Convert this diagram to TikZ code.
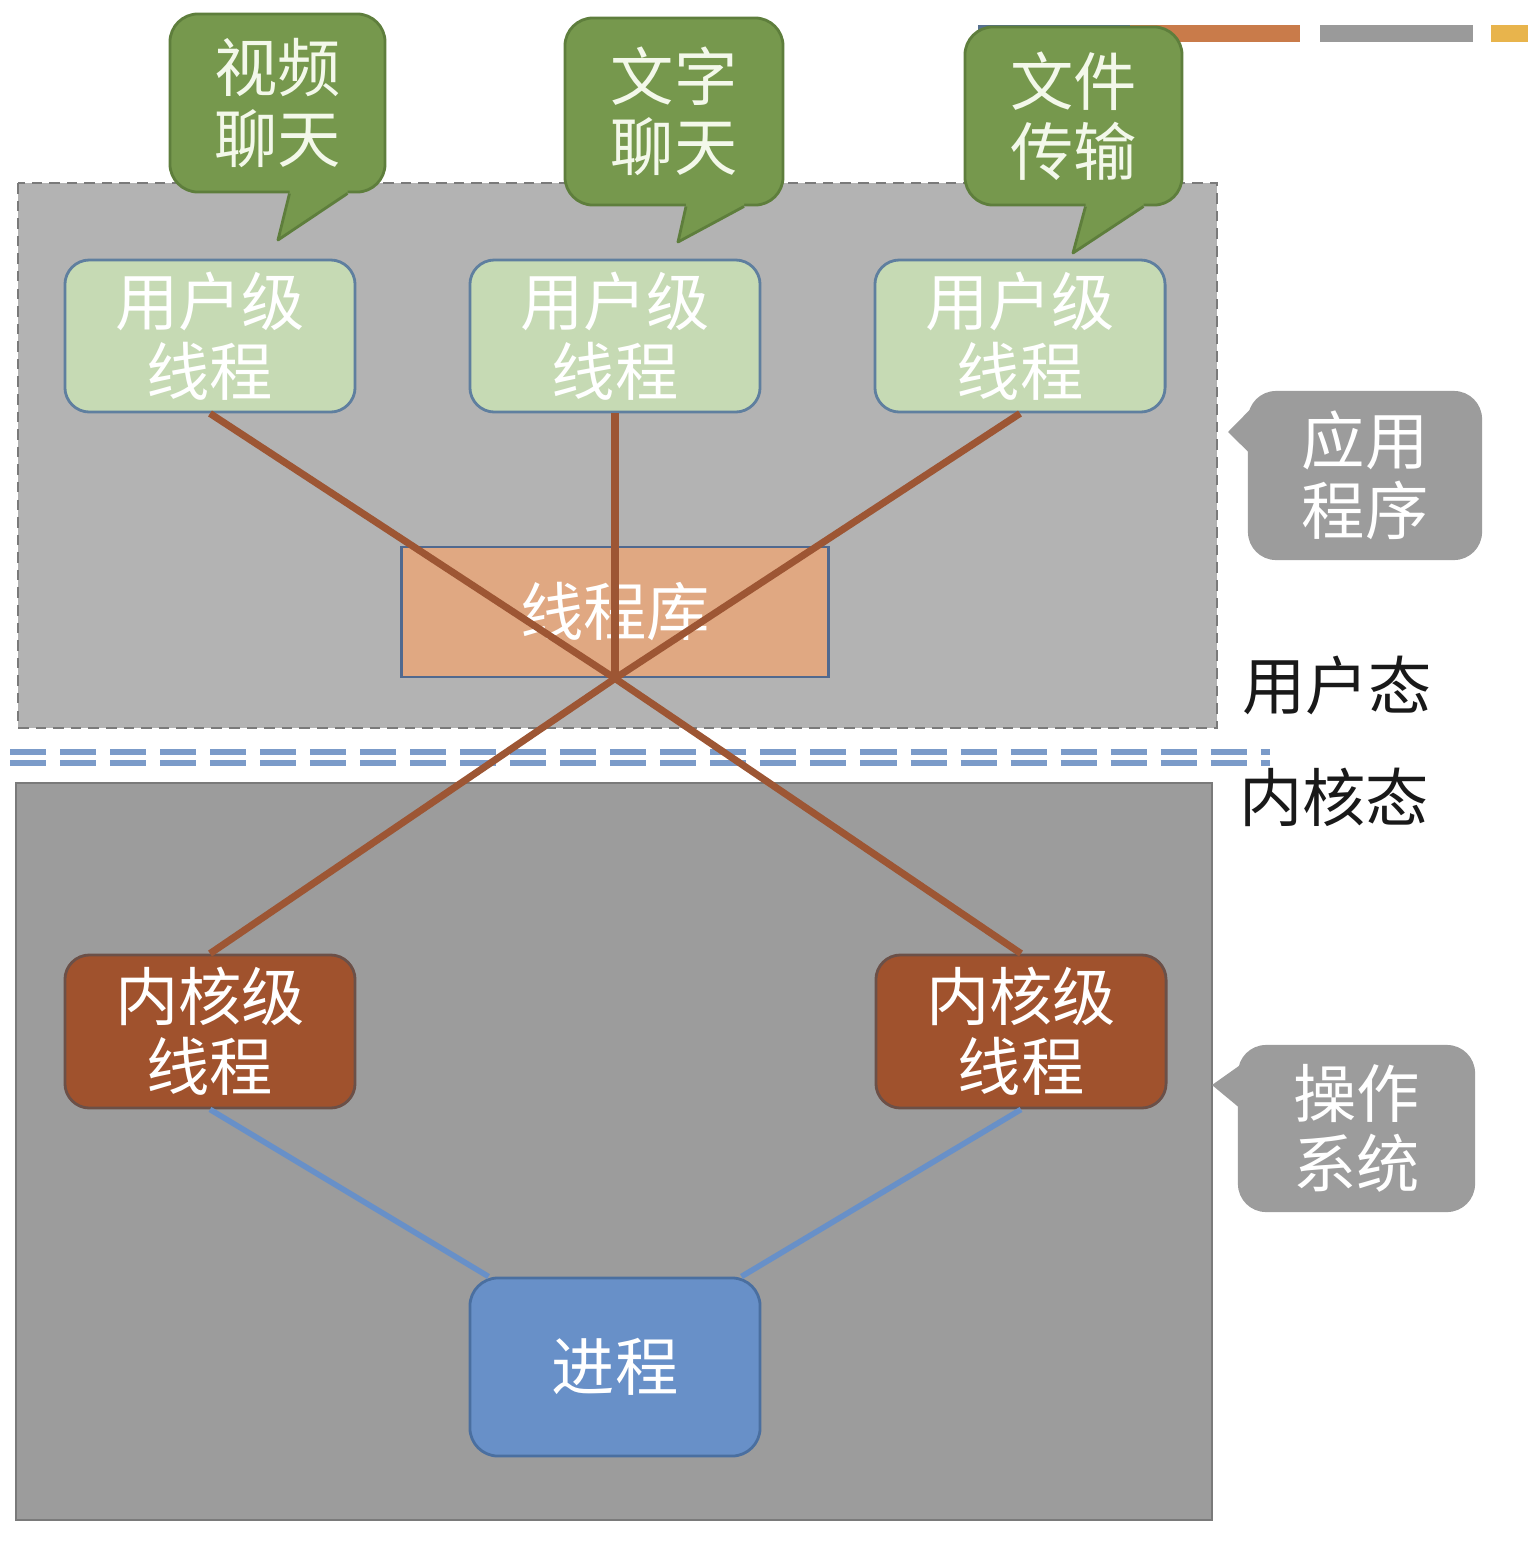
\documentclass[tikz,border=0pt]{standalone}
\usepackage{fontspec}
\setmainfont{Noto Sans CJK SC}
\usetikzlibrary{calc}

\definecolor{usergray}{HTML}{B3B3B3}
\definecolor{kernelgray}{HTML}{9C9C9C}
\definecolor{areaedge}{HTML}{7A7A7A}
\definecolor{sepblue}{HTML}{7B9BC9}
\definecolor{greenfill}{HTML}{76984D}
\definecolor{greenedge}{HTML}{5E7E3C}
\definecolor{greentext}{HTML}{F3F8EA}
\definecolor{userfill}{HTML}{C6DAB4}
\definecolor{useredge}{HTML}{5F7F9F}
\definecolor{libfill}{HTML}{E0A882}
\definecolor{libedge}{HTML}{50698F}
\definecolor{kernfill}{HTML}{A0522D}
\definecolor{kernedge}{HTML}{6B5048}
\definecolor{procfill}{HTML}{6890C8}
\definecolor{procedge}{HTML}{4A6FA0}
\definecolor{brownline}{HTML}{9D5634}
\definecolor{callgray}{HTML}{9C9C9C}
\definecolor{bardark}{HTML}{56708F}
\definecolor{barorange}{HTML}{C97B4A}
\definecolor{bargray}{HTML}{9A9A9A}
\definecolor{baryellow}{HTML}{E8B44C}

\tikzset{
  box/.style={rounded corners=7pt, draw, line width=0.8pt, align=center,
    inner sep=0pt, font=\fontsize{18}{20}\selectfont},
  userbox/.style={box, fill=userfill, draw=useredge, text=white,
    minimum width=2.9cm, minimum height=1.52cm},
  kernbox/.style={box, fill=kernfill, draw=kernedge, text=white,
    minimum width=2.9cm, minimum height=1.53cm},
  libbox/.style={box, rounded corners=0pt, fill=libfill, draw=libedge, text=white,
    minimum width=4.26cm, minimum height=1.3cm},
  procbox/.style={box, rounded corners=8pt, fill=procfill, draw=procedge, text=white,
    minimum width=2.9cm, minimum height=1.78cm},
  greencall/.style={box, rounded corners=8pt, fill=greenfill, draw=greenedge, text=greentext},
  graycall/.style={box, rounded corners=8pt, draw=none, fill=callgray, text=white},
  threadline/.style={draw=brownline, line width=2pt, line join=round},
  procline/.style={draw=procfill, line width=1.6pt},
  sepline/.style={draw=sepblue, line width=1.6pt, dash pattern=on 0.36cm off 0.14cm},
  modetext/.style={font=\fontsize{18}{20}\selectfont, text=black!90}
}

\begin{document}
\begin{tikzpicture}[x=0.01cm, y=-0.01cm]
  \useasboundingbox[fill=white] (0,0) rectangle (1528,1566);

  % slide bars
  \fill[bardark] (978,25) rectangle (1130,42);
  \fill[barorange] (1130,25) rectangle (1300,42);
  \fill[bargray] (1320,25) rectangle (1473,42);
  \fill[baryellow] (1491,25) rectangle (1528,42);

  % user and kernel areas
  \draw[densely dashed, draw=areaedge, fill=usergray] (18,183) rectangle (1217,728);
  \draw[draw=areaedge, fill=kernelgray] (16,783) rectangle (1212,1520);
  \foreach \ypos in {752,763}
    \draw[sepline] (10,\ypos) -- (1270,\ypos);

  % green callouts
  \node[greencall, minimum width=2.15cm, minimum height=1.78cm] (vid) at (277.5,103) {视频\\聊天};
  \node[greencall, minimum width=2.18cm, minimum height=1.87cm] (chat) at (674,111.5) {文字\\聊天};
  \node[greencall, minimum width=2.17cm, minimum height=1.78cm] (file) at (1073.5,116) {文件\\传输};
  \coordinate (vid tip) at (278,240);
  \coordinate (chat tip) at (678,242);
  \coordinate (file tip) at (1073,253);
  \foreach \cname in {vid,chat,file}{
    \fill[greenfill] ($(\cname.south)+(12,-8)$) -- ($(\cname.south)+(12,0)$) -- (\cname\space tip)
      -- ($(\cname.south)+(70,0)$) -- ($(\cname.south)+(70,-8)$) -- cycle;
    \draw[draw=greenedge, line width=0.8pt, line join=round] ($(\cname.south)+(12,0)$) -- (\cname\space tip) -- ($(\cname.south)+(70,0)$);
  }

  % gray callouts
  \node[graycall, minimum width=2.34cm, minimum height=1.69cm] (app) at (1365,475.5) {应用\\程序};
  \node[graycall, minimum width=2.37cm, minimum height=1.67cm] (os) at (1356.5,1128.5) {操作\\系统};
  \coordinate (app tip) at (1228,432);
  \coordinate (os tip) at (1212,1085);
  \fill[callgray] ($(app.west)+(8,-70.5)$) -- (app tip) -- ($(app.west)+(8,-17.5)$) -- cycle;
  \fill[callgray] ($(os.west)+(8,-66.5)$) -- (os tip) -- ($(os.west)+(8,-16.5)$) -- cycle;

  % mode labels
  \node[modetext] (umode) at (1337,685) {用户态};
  \node[modetext] (kmode) at (1334,797) {内核态};

  % threads
  \node[userbox] (ut1) at (210,336) {用户级\\线程};
  \node[userbox] (ut2) at (615,336) {用户级\\线程};
  \node[userbox] (ut3) at (1020,336) {用户级\\线程};
  \node[libbox] (lib) at (615,612) {线程库};
  \node[kernbox] (kt1) at (210,1031.5) {内核级\\线程};
  \node[kernbox] (kt2) at (1021,1031.5) {内核级\\线程};
  \node[procbox] (proc) at (615,1367) {进程};

  % mapping lines
  \draw[threadline] (ut1.south) -- (lib.south) -- (kt2.north);
  \draw[threadline] (ut2.south) -- (lib.south);
  \draw[threadline] (ut3.south) -- (lib.south) -- (kt1.north);
  \draw[procline] (kt1.south) -- ($(proc.north west)+(20,0)$);
  \draw[procline] (kt2.south) -- ($(proc.north east)+(-20,0)$);
\end{tikzpicture}
\end{document}
